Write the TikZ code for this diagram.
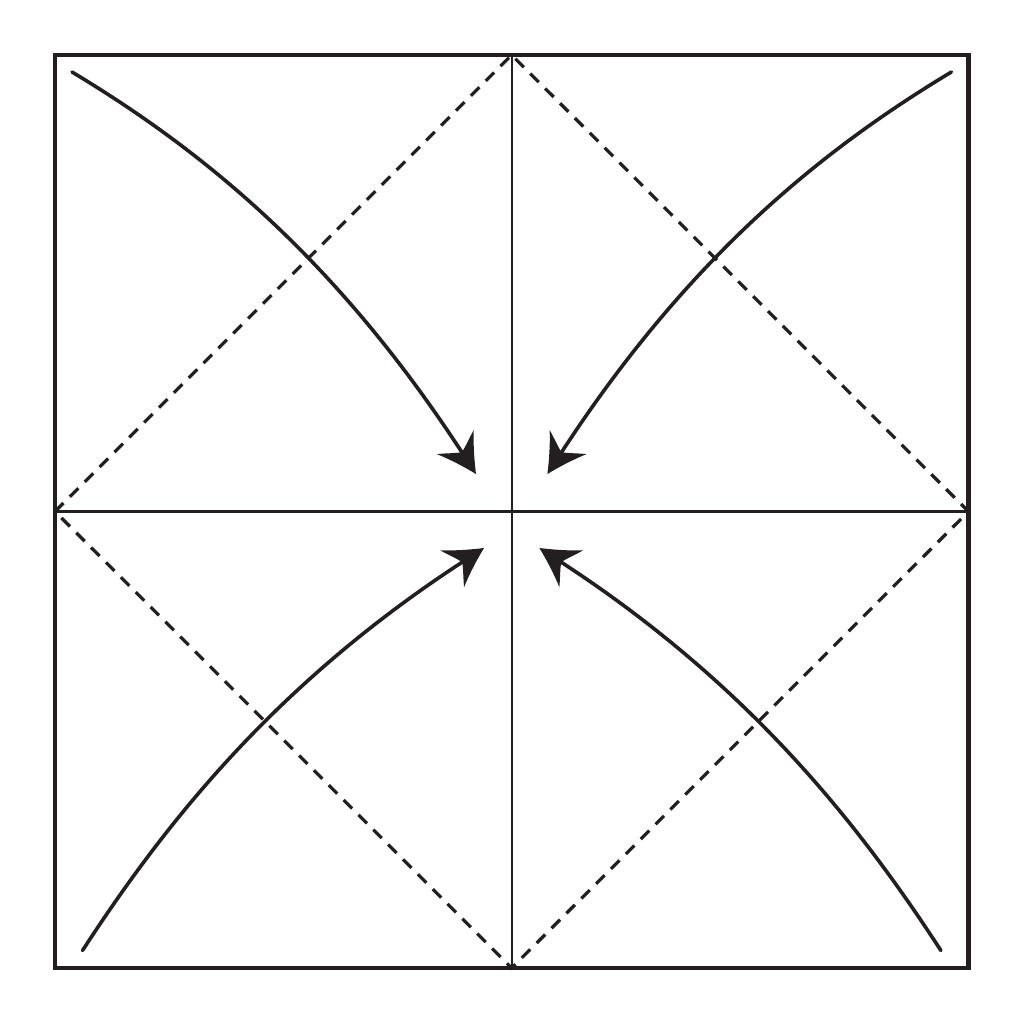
\documentclass[tikz,border=0pt]{standalone}
\usetikzlibrary{arrows.meta}
\definecolor{ink}{HTML}{231F20}
\pgfdeclarearrow{
  name = Swept,
  setup code = {
    \pgfarrowssettipend{0pt}
    \pgfarrowssetlineend{-24pt}
    \pgfarrowssetvisualbackend{-26pt}
    \pgfarrowssetbackend{-38pt}
    \pgfarrowshullpoint{0pt}{0pt}
    \pgfarrowshullpoint{-38pt}{22pt}
    \pgfarrowshullpoint{-38pt}{-22pt}
  },
  drawing code = {
    \pgfpathmoveto{\pgfpoint{0pt}{0pt}}
    \pgfpathcurveto{\pgfpoint{-12pt}{5.8pt}}{\pgfpoint{-26pt}{13.5pt}}{\pgfpoint{-38pt}{22pt}}
    \pgfpathcurveto{\pgfpoint{-34pt}{14pt}}{\pgfpoint{-29pt}{7pt}}{\pgfpoint{-26pt}{0pt}}
    \pgfpathcurveto{\pgfpoint{-29pt}{-7pt}}{\pgfpoint{-34pt}{-14pt}}{\pgfpoint{-38pt}{-22pt}}
    \pgfpathcurveto{\pgfpoint{-26pt}{-13.5pt}}{\pgfpoint{-12pt}{-5.8pt}}{\pgfpoint{0pt}{0pt}}
    \pgfpathclose
    \pgfusepathqfill
  }
}
\begin{document}
\begin{tikzpicture}[x=1pt,y=-1pt,
  frame/.style={draw=ink,line width=4.2pt},
  axisline/.style={draw=ink,line width=2.3pt},
  foldline/.style={draw=ink,line width=3.2pt,dash pattern=on 12pt off 9pt},
  flow/.style={draw=ink,line width=3.6pt,line cap=round,-Swept}]
\useasboundingbox (0,0) rectangle (1024,1024);
% frame corners and side midpoints
\coordinate (NW) at (55,55);
\coordinate (SE) at (968.5,968);
\coordinate (W) at (55,511.5);
\coordinate (E) at (968.5,511.5);
\coordinate (N) at (511.7,55);
\coordinate (S) at (511.7,968);
\draw[frame] (NW) rectangle (SE);
\draw[axisline] (W) -- (E);
\draw[axisline] (N) -- (S);
\draw[foldline] (W) -- (N) -- (E) -- (S) -- cycle;
% arrow end points
\coordinate (a1) at (72,72);
\coordinate (b1) at (476,474);
\coordinate (a2) at (951.4,72);
\coordinate (b2) at (547.4,474);
\coordinate (a3) at (82.5,950.5);
\coordinate (b3) at (484,548);
\coordinate (a4) at (940.9,950.5);
\coordinate (b4) at (539.4,548);
\draw[flow] (a1) .. controls (209.1,154.4) and (339.8,264.3) .. (b1);
\draw[flow] (a2) .. controls (814.3,154.4) and (683.6,264.3) .. (b2);
\draw[flow] (a3) .. controls (164.2,824.7) and (274.3,684.2) .. (b3);
\draw[flow] (a4) .. controls (859.2,824.7) and (749.1,684.2) .. (b4);
\end{tikzpicture}
\end{document}
